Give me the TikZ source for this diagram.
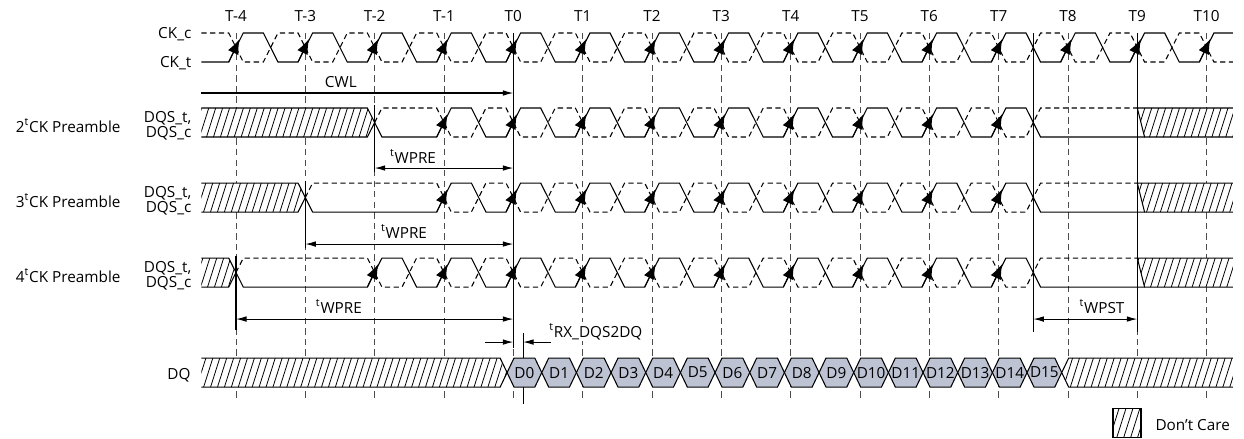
\documentclass[tikz,border=0pt]{standalone}
\usepackage{fontspec}
\setmainfont{Open Sans}
\usepackage{tikz}
\usetikzlibrary{arrows.meta,calc}

\definecolor{datafill}{RGB}{189,195,211}

\newcommand{\hatchfill}[1]{%
  \fill[white] #1;
  \begin{scope}
    \clip #1;
    \foreach \h in {-10.6,-10.5,...,11}
      \draw[hatchline] (\h,438) -- ({\h+2},0);
  \end{scope}}

\begin{document}
\begin{tikzpicture}[x=1.3866cm, y=-0.02cm, line width=0.6pt,
    font=\fontsize{8.7}{10.4}\selectfont,
    cmpl/.style={dash pattern=on 3pt off 2pt},
    tline/.style={black!70, line width=0.5pt, dash pattern=on 3.6pt off 2.4pt},
    clkarrow/.style={-{Latex[length=8.5pt,width=6.5pt]}},
    dimarrow/.style={{Latex[length=6pt,width=3.2pt]}-{Latex[length=6pt,width=3.2pt]}},
    endarrow/.style={-{Latex[length=6pt,width=3.2pt]}},
    hatchline/.style={line width=0.45pt},
    sig/.style={anchor=base east, inner sep=0pt},
    lbl/.style={anchor=base, inner sep=0pt},
    dlabel/.style={inner sep=0pt}
]

\useasboundingbox (-7.404,0) rectangle (10.539,438);

% clock edges
\foreach \n in {-4,...,10} {
  \node[lbl] (tk\n) at (\n,22) {T\n};
  \draw[tline] (\n,33) -- (\n,398);
}

\node[sig] (ckc) at (-4.636,38) {CK\_c};
\node[sig] (ckt) at (-4.636,67) {CK\_t};
\draw (-4.5,62) \foreach \n in {-4,...,9} { -- ({\n-0.105},62) -- ({\n+0.105},33) -- ({\n+0.395},33) -- ({\n+0.605},62) } -- (9.895,62) -- (10.105,33) -- (10.38,33);
\draw[cmpl] (-4.5,33) \foreach \n in {-4,...,9} { -- ({\n-0.105},33) -- ({\n+0.105},62) -- ({\n+0.395},62) -- ({\n+0.605},33) } -- (9.895,33) -- (10.105,62) -- (10.38,62);
\foreach \n in {-4,...,10} \draw[clkarrow] ({\n-0.105},62) -- ({\n+0.052},39);

\coordinate (cwlstart) at (-4.5,93);
\coordinate (cwlend) at (0,93);
\draw[endarrow] (cwlstart) -- (cwlend);
\node[lbl] (cwl) at (-2.488,87) {CWL};

% DQS rows
\foreach \yhi/\pa/\sa/\nck/\rw in {108/-2/-1/2/A, 183/-3/-1/3/B, 258/-4/-2/4/C} {
  \pgfmathsetmacro{\ylo}{\yhi+29}
  \pgfmathsetmacro{\ymd}{\yhi+14.5}
  \node[sig] (pre\rw) at (-5.659,{\yhi+24}) {\nck\textsuperscript{t}CK Preamble};
  \node[sig] (dqst\rw) at (-4.636,{\yhi+14}) {DQS\_t,};
  \node[sig] (dqsc\rw) at (-4.636,{\yhi+29}) {DQS\_c};
  \hatchfill{(-4.5,\yhi) -- ({\pa-0.105},\yhi) -- (\pa,\ymd) -- ({\pa-0.105},\ylo) -- (-4.5,\ylo) -- cycle}
  \draw (-4.5,\yhi) -- ({\pa-0.105},\yhi) -- (\pa,\ymd) -- ({\pa-0.105},\ylo) -- (-4.5,\ylo);
  \draw (\pa,\ymd) -- ({\pa+0.105},\ylo) \foreach \n in {\sa,...,7} { -- ({\n-0.105},\ylo) -- ({\n+0.105},\yhi) -- ({\n+0.395},\yhi) -- ({\n+0.605},\ylo) } -- (9.105,\ylo);
  \draw[cmpl] (\pa,\ymd) -- ({\pa+0.105},\yhi) \foreach \n in {\sa,...,7} { -- ({\n-0.105},\yhi) -- ({\n+0.105},\ylo) -- ({\n+0.395},\ylo) -- ({\n+0.605},\yhi) } -- (9,\yhi);
  \foreach \n in {\sa,...,7} \draw[clkarrow] ({\n-0.105},\ylo) -- ({\n+0.052},{\ylo-23});
  \hatchfill{(9,\yhi) -- (10.38,\yhi) -- (10.38,\ylo) -- (9.105,\ylo) -- cycle}
  \draw (10.38,\yhi) -- (9,\yhi) -- (9.105,\ylo) -- (10.38,\ylo);
}

% reference lines
\draw (0,33) -- (0,348);
\draw (7.5,33) -- (7.5,332);
\draw (9,33) -- (9,332);
\draw (-2,105) -- (-2,172);
\draw (-3,181) -- (-3,248);
\draw (-4,256) -- (-4,330);

\coordinate (wpreA) at (-2,168);
\coordinate (wpreB) at (-3,244);
\coordinate (wpreC) at (-4,319);
\coordinate (tzA) at (0,168);
\coordinate (tzB) at (0,244);
\coordinate (tzC) at (0,319);
\draw[dimarrow] (wpreA) -- (tzA);
\draw[dimarrow] (wpreB) -- (tzB);
\draw[dimarrow] (wpreC) -- (tzC);
\node[lbl] (twpreA) at (-1.447,163) {\textsuperscript{t}WPRE};
\node[lbl] (twpreB) at (-1.577,238) {\textsuperscript{t}WPRE};
\node[lbl] (twpreC) at (-2.516,313) {\textsuperscript{t}WPRE};

\coordinate (wpstA) at (7.5,319);
\coordinate (wpstB) at (9,319);
\draw[dimarrow] (wpstA) -- (wpstB);
\node[lbl] (twpst) at (8.49,313) {\textsuperscript{t}WPST};

% DQS to DQ skew
\coordinate (rxa) at (-0.41,342);
\coordinate (rxb) at (0,342);
\coordinate (rxc) at (0.54,342);
\coordinate (rxd) at (0.14,342);
\draw[endarrow] (rxa) -- (rxb);
\draw[endarrow] (rxc) -- (rxd);
\draw (0.14,333) -- (0.14,404);
\node[anchor=base west, fill=white, inner sep=1pt] (trx) at (0.486,337) {\textsuperscript{t}RX\_DQS2DQ};

% DQ
\node[sig] (dq) at (-4.649,379) {DQ};
\hatchfill{(-4.5,358) -- (-0.19,358) -- (-0.09,372.5) -- (-0.19,387) -- (-4.5,387) -- cycle}
\draw (-4.5,358) -- (-0.19,358) -- (-0.09,372.5) -- (-0.19,387) -- (-4.5,387);
\foreach \k in {0,...,15} {
  \pgfmathsetmacro{\ea}{-0.09+0.5*\k}
  \pgfmathsetmacro{\eb}{\ea+0.5}
  \filldraw[fill=datafill] (\ea,372.5) -- ({\ea+0.1},358) -- ({\eb-0.1},358) -- (\eb,372.5) -- ({\eb-0.1},387) -- ({\ea+0.1},387) -- cycle;
  \node[dlabel] (d\k) at ({\ea+0.25},372.5) {D\k};
}
\hatchfill{(7.91,372.5) -- (8.01,358) -- (10.38,358) -- (10.38,387) -- (8.01,387) -- cycle}
\draw (10.38,358) -- (8.01,358) -- (7.91,372.5) -- (8.01,387) -- (10.38,387);

% legend
\hatchfill{(8.649,408) rectangle (9.053,437)}
\draw (8.649,408) rectangle (9.053,437);
\node[anchor=base west, inner sep=0pt] (legend) at (9.256,430) {Don’t Care};

\end{tikzpicture}
\end{document}
